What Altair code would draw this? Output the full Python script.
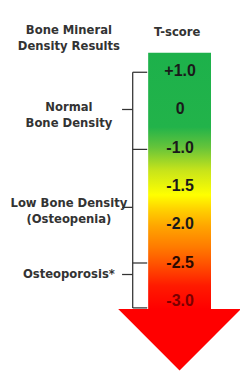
import altair as alt
import pandas as pd

# ---- data ----
tscore_labels = ["+1.0", "0", "-1.0", "-1.5", "-2.0", "-2.5", "-3.0"]
tscore_rows = [0, 1, 2, 3, 4, 5, 6]

category_labels = ["Normal\nBone Density", "Low Bone Density\n(Osteopenia)", "Osteoporosis*"]
category_label_rows = [0.95, 3.45, 5.3]
category_tick_rows = [1.0, 3.55, 5.3]
boundary_rows = [0.03, 2.04, 5.0, 6.17]   # +1.0, -1.0, -2.5, end of bracket

bar_top_row = -0.48
bar_bottom_row = 6.2

header_left = "Bone Mineral\nDensity Results"
header_right = "T-score"

# ---- frames ----
labels_df = pd.DataFrame({"label": tscore_labels, "row": tscore_rows})
cat_df = pd.DataFrame({"label": category_labels, "row": category_label_rows,
                       "tick": category_tick_rows})
bound_df = pd.DataFrame({"row": boundary_rows})
bar_df = pd.DataFrame({"top": [bar_top_row], "bottom": [bar_bottom_row]})
head_df = pd.DataFrame({"left": [header_left], "right": [header_right]})

yscale = alt.Scale(domain=[-1.486, 7.708], reverse=True)
Y = lambda f: alt.Y(f, type="quantitative", scale=yscale, axis=None)

font_txt = "DejaVu Sans"
text_col = "#333333"
line_col = "#333333"

gradient = alt.Gradient(
    gradient="linear", x1=0, x2=0, y1=0, y2=1,
    stops=[
        alt.GradientStop(offset=0.0, color="#1db14b"),
        alt.GradientStop(offset=0.29, color="#22b34a"),
        alt.GradientStop(offset=0.37, color="#66c43a"),
        alt.GradientStop(offset=0.46, color="#c8e41a"),
        alt.GradientStop(offset=0.555, color="#ffff00"),
        alt.GradientStop(offset=0.61, color="#ffd200"),
        alt.GradientStop(offset=0.675, color="#ffa600"),
        alt.GradientStop(offset=0.76, color="#ff7a00"),
        alt.GradientStop(offset=0.82, color="#ff5500"),
        alt.GradientStop(offset=0.91, color="#ff1a00"),
        alt.GradientStop(offset=1.0, color="#ff0000"),
    ],
)

bar = alt.Chart(bar_df).mark_rect(color=gradient).encode(
    x=alt.value(145), x2=alt.value(210),
    y=Y("top"), y2=alt.Y2("bottom"),
)

arrow = alt.Chart(bar_df).mark_point(
    shape="M-1,0L1,0L0,1Z", filled=True, opacity=1, color="#ff0000",
    size=127 * 127, strokeWidth=0,
).encode(x=alt.value(177.5), y=Y("bottom"))

nums = alt.Chart(labels_df).mark_text(
    font="Liberation Sans", fontWeight="bold", fontSize=16.5, baseline="middle",
    align="center",
).encode(
    x=alt.value(178), y=Y("row"), text="label:N",
    color=alt.Color("label:N", legend=None,
                    scale=alt.Scale(domain=tscore_labels,
                                    range=["#1a1a1a"] * 5 + ["#2a0a00", "#7a0000"])),
)

spine = alt.Chart(bar_df).mark_rule(color=line_col, strokeWidth=1.3).encode(
    x=alt.value(129), y=Y("bottom"), y2=alt.Y2("top"),
).transform_calculate(top="0.03", bottom="6.17")

hooks = alt.Chart(bound_df).mark_rule(color=line_col, strokeWidth=1.3).encode(
    x=alt.value(129), x2=alt.value(144), y=Y("row"),
)

ticks = alt.Chart(cat_df).mark_rule(color=line_col, strokeWidth=1.3).encode(
    x=alt.value(118), x2=alt.value(129), y=Y("tick"),
)

cats = alt.Chart(cat_df).mark_text(
    font=font_txt, fontWeight="bold", fontSize=12, lineBreak="\n", lineHeight=16,
    align="center", baseline="middle", color=text_col,
).encode(x=alt.value(63), y=Y("row"), text="label:N")

head_l = alt.Chart(head_df).mark_text(
    font=font_txt, fontWeight="bold", fontSize=12, lineBreak="\n", lineHeight=16,
    align="center", baseline="middle", color=text_col,
).encode(x=alt.value(63), y=alt.value(17), text="left:N")

head_r = alt.Chart(head_df).mark_text(
    font=font_txt, fontWeight="bold", fontSize=12,
    align="center", baseline="middle", color=text_col,
).encode(x=alt.value(175), y=alt.value(19), text="right:N")

chart = alt.layer(bar, arrow, spine, hooks, ticks, nums, cats, head_l, head_r).properties(
    width=240, height=365, padding=0, autosize="none",
).configure_view(stroke=None)

chart.save("out.html", embed_options={"renderer": "svg", "actions": False})
